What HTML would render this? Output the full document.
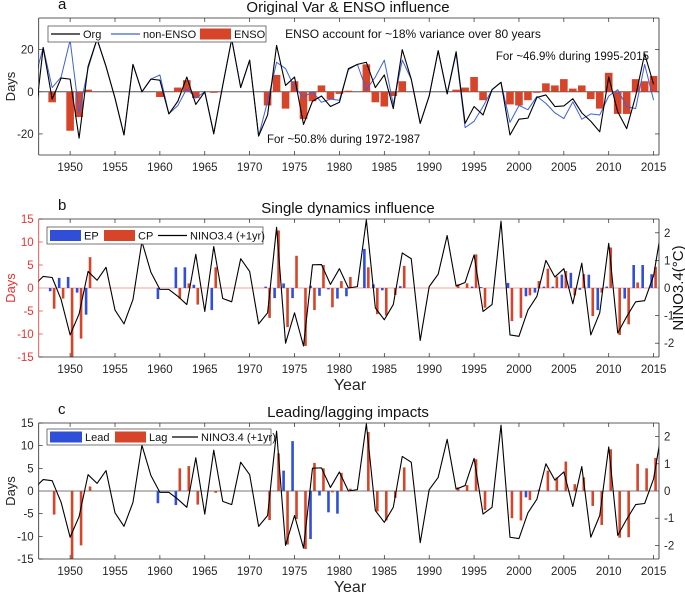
<!DOCTYPE html>
<html><head><meta charset="utf-8"><style>
body{margin:0;background:#fff}
svg{display:block;font-family:"Liberation Sans",sans-serif}
</style></head><body>
<svg id="chart" width="685" height="596" viewBox="0 0 685 596" xmlns="http://www.w3.org/2000/svg">
<defs>
<clipPath id="clipA"><rect x="38" y="18" width="621" height="137"/></clipPath>
<clipPath id="clipB"><rect x="38" y="219" width="621" height="138"/></clipPath>
<clipPath id="clipC"><rect x="38" y="423" width="621" height="136"/></clipPath>
</defs>
<g id="root"></g>
</svg>
<script>
const years = [];
for (let y = 1946; y <= 2015; y++) years.push(y);
const ninoYears = [];
for (let y = 1946; y <= 2016; y++) ninoYears.push(y);
const xTicks = [1950,1955,1960,1965,1970,1975,1980,1985,1990,1995,2000,2005,2010,2015];
const orgValues = [-17,21,-3.5,6.5,6,-22,12,25,12,-3, -20.5,13,0,6,5.5,-10.5,-4.5,7,-6,0, -20,3,25,2,15,-21,-11,22,3,7, -15.5,-4.5,-2,-7,-5,11,13,14,2,8, -8,20,6,-15,-2,19.5,-1,19,-15,-7, -11,1,4.5,-20.5,-13,-12.5,-2.7,-1.5,-7,-6.7, -3.3,-10,-14,-19,7,-9.5,-17.5,-2,18,3.5];
const nonEnsoValues = [5,21,2,7,24.5,-10,11,25,12,-3, -20.5,13,0,6,8,-10.5,-6.5,1.5,-3,0, -19.5,3,25,2,15,-21,-4.5,14,11,2, -2.5,0,-5,-3.5,-4,10.5,13,1,7,15, -6,15,6,-15,-2,19.5,-1,18,-17,-14, -7,1,4.5,-14.5,-6.5,-8.5,-2.2,-5.5,-10,-12.7, -4.8,-13,-10.5,-11,-2,1,-7,-8,13,-4];
const ensoValues = [0,0,-5,0,-18.5,-12,1,0,0,0, 0,0,0,0,-2.5,0,2,5.5,-3,0, -0.5,0,0,0,0,0,-6.5,8,-8,5, -13,-4.5,3,-3.5,-1,0.5,0,13,-5,-7, -2,5,0,0,0,0,0,1,2,7, -4,0,0,-6,-6.5,-4,-0.5,4,3,6, 1.5,3,-3.5,-8,9,-10.5,-10.5,6,5,7.5];
const ninoValues = [0.1,0.42,0.38,-0.42,-1.7,-0.94,0.6,0.28,0.75,-0.8, -1.3,-0.42,1.68,0.57,-0.05,-0.05,-0.3,-0.6,1.22,-0.85, 1.5,-0.38,-0.5,1.06,0.6,-1.3,-0.9,2.2,-2.0,-0.9, -2.1,0.84,0.85,0.13,0.7,0.0,0.05,2.47,-0.72,-1.15, -0.6,1.27,1.06,-1.9,0.05,0.5,1.9,0.07,0.2,1.2, -0.85,-0.6,2.42,-1.7,-1.75,-0.8,-0.3,1.0,0.4,0.7, -0.57,0.9,-1.7,-0.9,1.62,-1.63,-1.04,-0.5,-0.46,0.45, 2.4];
const epValues = [0,0,-0.7,2.2,2.4,-1,-5.8,0,0,0, 0,0,0,0,-2.4,0,4.5,4.5,0.7,0, -4.8,0,0,0,0,0,0.3,-2.2,1,-2.2, 0,0.5,-1.7,-0.3,-2.3,-1.8,0,8.5,0.8,-0.5, 0,0.4,0,0,0,0,0,0,0,0.3, 0.2,0,0,1.1,0,-1.8,-1,0.3,0.3,2.9, 3.3,-0.4,2.9,-4.8,0.3,0,-2.3,5,5,3];
const cpValues = [0,0,-4.5,-2.3,-15,-11,6.7,0,0,0, 0,0,0,0,0,0,-2.3,1,-3.6,0, 4.5,0,0,0,0,0,-6.5,12.5,-8.5,7, -12.6,-4.8,5,-4.2,1.5,2.4,0,4.5,-5.7,-6, -1.5,4.8,0,0,0,0,0,0.8,1,7.3, -4.3,0,0,-7.2,-6.5,-1.6,1.5,4.2,2.5,3.7, -1.6,3,-6.1,-1,8.8,-10.2,-7.9,1.2,0,4.6];
const leadValues = [0,0,0,0,0,0,0,0,0,0, 0,0,0,0,-2.7,0,-3.1,0,0,0, 0,0,0,0,0,0,0,0,4.5,11, 0,-10.6,-1,-4.7,-5,0,0,0,0,0, 0,0,0,0,0,0,0,0,0,0, 0,0,0,0,0,-1.4,0,0,0,0, 0,0,0,0,0,0,0,0,0,0];
const lagValues = [0,0,-5.2,0,-15,-12,1,0,0,0, 0,0,0,0,0,0,5,5.5,-3,0, -0.4,0,0,0,0,0,-6.4,8.3,-11.8,-6.2, -12.8,6.2,5,-0.3,4,0.5,0,13,-4.5,-6.5, -1.5,5.2,0,0,0,0,0,0.8,1.3,7, -4.2,0,0,-6,-6.5,-2,0.3,4.5,3,6.5, 1.5,3,-3.3,-7.5,9.2,-10.3,-10.2,6,5,7.3];
const daysTicksA = [-20,0,20];
const daysTicksBC = [-15,-10,-5,0,5,10,15];
const ninoTicks = [-2,-1,0,1,2];

const NS = "http://www.w3.org/2000/svg";
const root = document.getElementById('root');
const X0 = 38.7, X1 = 659, XMIN = 1946.5, XMAX = 2015.6;
function xs(yr){ return X0 + (yr - XMIN) / (XMAX - XMIN) * (X1 - X0); }
function mk(tag, attrs, parent){ const e = document.createElementNS(NS, tag); for (const k in attrs) e.setAttribute(k, attrs[k]); (parent||root).appendChild(e); return e; }
function txt(s, attrs, parent){ const e = mk('text', attrs, parent); e.textContent = s; return e; }
function yScale(top, bottom, lo, hi){ return v => bottom - (v - lo) / (hi - lo) * (bottom - top); }

function panel(p){
  const g = mk('g', {});
  
  
  xTicks.forEach(t => {
    const x = xs(t);
    mk('line', {x1:x, x2:x, y1:p.bottom, y2:p.bottom-4, stroke:'#262626', 'stroke-width':0.7}, g);
    mk('line', {x1:x, x2:x, y1:p.top, y2:p.top+4, stroke:'#262626', 'stroke-width':0.7}, g);
    const l = txt(String(t), {x:x, y:p.bottom+16, 'font-size':11.5, 'text-anchor':'middle', fill:'#262626'}, g);
    
    
  });
  const yl = yScale(p.top, p.bottom, p.ylo, p.yhi);
  p.yticks.forEach(t => {
    const y = yl(t);
    mk('line', {x1:X0, x2:X0+4, y1:y, y2:y, stroke:p.leftColor, 'stroke-width':0.7}, g);
    if (!p.right) mk('line', {x1:X1, x2:X1-4, y1:y, y2:y, stroke:'#262626', 'stroke-width':0.7}, g);
    const l = txt(String(t), {x:X0-5, y:y+4, 'font-size':11.5, 'text-anchor':'end', fill:p.leftColor}, g);
    
    
  });
  let yr = null;
  if (p.right){
    yr = yScale(p.top, p.bottom, -2.5, 2.5);
    ninoTicks.forEach(t => {
      const y = yr(t);
      mk('line', {x1:X1, x2:X1-4, y1:y, y2:y, stroke:'#262626', 'stroke-width':0.7}, g);
      const l = txt(String(t), {x:X1+5, y:y+4, 'font-size':11.5, fill:'#262626'}, g);
      
      
    });
  }
  mk('line', {x1:X0, x2:X1, y1:yl(0), y2:yl(0), stroke:p.zeroColor, 'stroke-width':1}, g);
  const cg = mk('g', {'clip-path':'url(#'+p.clip+')'}, g);
  p.draw(cg, yl, yr);
  mk('line', {x1:X0, x2:X1, y1:p.top, y2:p.top, stroke:'#262626', 'stroke-width':0.8}, g);
  mk('line', {x1:X0, x2:X1, y1:p.bottom, y2:p.bottom, stroke:'#262626', 'stroke-width':0.8}, g);
  mk('line', {x1:X0, x2:X0, y1:p.top, y2:p.bottom, stroke:p.leftColor, 'stroke-width':0.8}, g);
  mk('line', {x1:X1, x2:X1, y1:p.top, y2:p.bottom, stroke:'#262626', 'stroke-width':0.8}, g);
  const tt = txt(p.title, {x:348, y:p.top-6, 'font-size':15, 'text-anchor':'middle', fill:'#111'}, g);
  
  
  const lt = txt(p.letter, {x:58, y:p.top-9, 'font-size':15, fill:'#111'}, g);
  
  
  const cy = (p.top + p.bottom)/2;
  const yt = txt('Days', {x:15, y:cy, 'font-size':13, 'text-anchor':'middle', fill:p.leftColor, transform:'rotate(-90 15 '+cy+')'}, g);
  
  
  if (p.xlabel){
    const xl = txt('Year', {x:350, y:p.bottom+33, 'font-size':16, 'text-anchor':'middle', fill:'#262626'}, g);
    
    
  }
  return g;
}
function polyline(g, xsArr, vals, sc, color, w, name){
  const pts = vals.map((v,i) => xs(xsArr[i]).toFixed(2)+','+sc(v).toFixed(2)).join(' ');
  const l = mk('polyline', {points:pts, fill:'none', stroke:color, 'stroke-width':w, 'stroke-linejoin':'round'}, g);
  
  
}
function bars(g, vals, sc, color, offset, width, name){
  vals.forEach((v,i) => {
    if (v === 0) return;
    const x = xs(years[i] + offset) - width/2;
    const y0 = sc(0), y1 = sc(v);
    const r = mk('rect', {x:x, y:Math.min(y0,y1), width:width, height:Math.abs(y1-y0), fill:color}, g);
    
    
  });
}
const RED = '#d6452a', BLUE = '#2f4fd8', BLINE = '#3f5fe0';

panel({name:'panel-a', top:18, bottom:155, ylo:-30, yhi:35, yticks:daysTicksA, leftColor:'#262626', zeroColor:'#555', clip:'clipA', title:'Original Var & ENSO influence', letter:'a', right:false, xlabel:false,
  draw:(g, yl) => {
    bars(g, ensoValues, yl, RED, 0, 7.6, 'enso-bar');
    polyline(g, years, nonEnsoValues, yl, BLINE, 1, 'non-enso-line');
    polyline(g, years, orgValues, yl, '#000', 1.1, 'org-line');
  }});
panel({name:'panel-b', top:219, bottom:357, ylo:-15, yhi:15, yticks:daysTicksBC, leftColor:'#f03030', zeroColor:'#f0a0a0', clip:'clipB', title:'Single dynamics influence', letter:'b', right:true, xlabel:true,
  draw:(g, yl, yr) => {
    bars(g, epValues, yl, BLUE, -0.22, 2.6, 'ep-bar');
    bars(g, cpValues, yl, RED, 0.22, 2.6, 'cp-bar');
    polyline(g, ninoYears, ninoValues, yr, '#000', 1.1, 'nino-line');
  }});
panel({name:'panel-c', top:423, bottom:559, ylo:-15, yhi:15, yticks:daysTicksBC, leftColor:'#262626', zeroColor:'#777', clip:'clipC', title:'Leading/lagging impacts', letter:'c', right:true, xlabel:true,
  draw:(g, yl, yr) => {
    bars(g, leadValues, yl, BLUE, -0.22, 2.6, 'lead-bar');
    bars(g, lagValues, yl, RED, 0.22, 2.6, 'lag-bar');
    polyline(g, ninoYears, ninoValues, yr, '#000', 1.1, 'nino-line');
  }});

const rt = txt('NINO3.4(°C)', {x:683, y:288, 'font-size':15, 'text-anchor':'middle', fill:'#111', transform:'rotate(-90 683 288)'});



const an1 = txt('ENSO account for ~18% variance over 80 years', {x:413, y:38, 'font-size':12, 'text-anchor':'middle', fill:'#111'});


const an2 = txt('For ~46.9% during 1995-2015', {x:649, y:60, 'font-size':11.5, 'text-anchor':'end', fill:'#111'});


const an3 = txt('For ~50.8% during 1972-1987', {x:267, y:143, 'font-size':11.5, fill:'#111'});



function legend(name, x, y, w, h, items){
  const g = mk('g', {});
  
  
  mk('rect', {x:x, y:y, width:w, height:h, fill:'#fff', stroke:'#555', 'stroke-width':0.8}, g);
  const cy = y + h/2;
  items.forEach(it => {
    const e = mk('g', {}, g);
    
    
    if (it.type === 'line') mk('line', {x1:it.x1, x2:it.x2, y1:cy, y2:cy, stroke:it.color, 'stroke-width':1.2}, e);
    else mk('rect', {x:it.x1, y:cy-5.5, width:it.x2-it.x1, height:11, fill:it.color}, e);
    txt(it.label, {x:it.x2+3, y:cy+4, 'font-size':11, fill:'#111'}, e);
  });
}
legend('legend-a', 48, 26, 218, 16, [
  {type:'line', x1:51, x2:80, color:'#000', label:'Org'},
  {type:'line', x1:111, x2:140, color:BLINE, label:'non-ENSO'},
  {type:'rect', x1:200, x2:231, color:RED, label:'ENSO'}]);
legend('legend-b', 47, 227, 216, 17, [
  {type:'rect', x1:50, x2:81, color:BLUE, label:'EP'},
  {type:'rect', x1:104, x2:135, color:RED, label:'CP'},
  {type:'line', x1:158, x2:187, color:'#000', label:'NINO3.4 (+1yr)'}]);
legend('legend-c', 47, 429, 224, 16, [
  {type:'rect', x1:50, x2:82, color:BLUE, label:'Lead'},
  {type:'rect', x1:115, x2:146, color:RED, label:'Lag'},
  {type:'line', x1:172, x2:198, color:'#000', label:'NINO3.4 (+1yr)'}]);
</script>
</body></html>
